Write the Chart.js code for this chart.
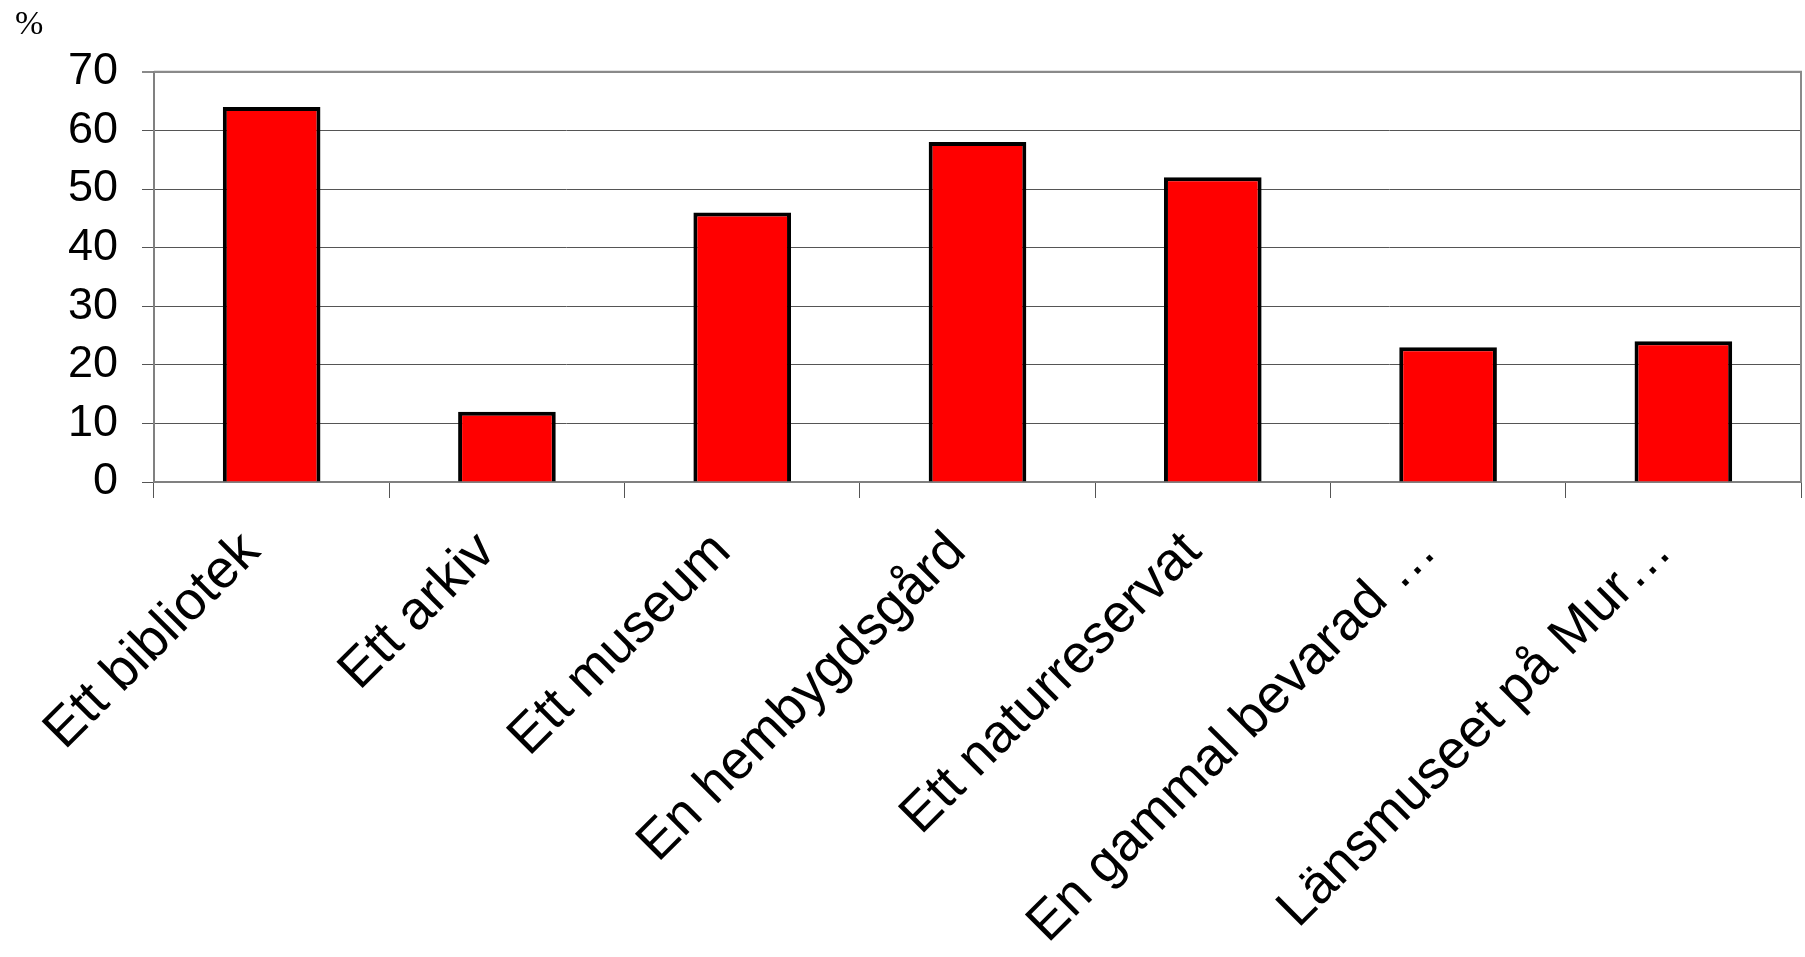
<!DOCTYPE html>
<html>
<head>
<meta charset="utf-8">
<script src="https://cdn.jsdelivr.net/npm/chart.js@4/dist/chart.umd.min.js"></script>
<style>
  html, body { margin: 0; padding: 0; background: #fff; }
  #wrap { width: 1805px; height: 957px; }
</style>
</head>
<body>
<div id="wrap"><canvas id="chart" width="1805" height="957"></canvas></div>
<script>
const categories = [
  'Ett bibliotek',
  'Ett arkiv',
  'Ett museum',
  'En hembygdsgård',
  'Ett naturreservat',
  'En gammal bevarad …',
  'Länsmuseet på Mur…'
];
const values = [64, 12, 46, 58, 52, 23, 24];
const yTicks = [0, 10, 20, 30, 40, 50, 60, 70];
const unitLabel = '%';

// ram runt plottytan (topp + höger)
const frame = {
  id: 'frame',
  afterDatasetsDraw(chart) {
    const { ctx, chartArea: a } = chart;
    ctx.save();
    ctx.strokeStyle = '#8a8a8a';
    ctx.lineWidth = 2;
    ctx.beginPath();
    ctx.moveTo(a.left, a.top);
    ctx.lineTo(a.right, a.top);
    ctx.lineTo(a.right, a.bottom);
    ctx.stroke();
    ctx.restore();
  }
};

new Chart(document.getElementById('chart'), {
  type: 'bar',
  data: {
    labels: categories,
    datasets: [{
      data: values,
      backgroundColor: '#ff0000',
      borderColor: '#000',
      borderWidth: 4,
      categoryPercentage: 1,
      barPercentage: 0.415
    }]
  },
  options: {
    responsive: false,
    animation: false,
    layout: { padding: { left: 15, right: 4, top: 0, bottom: 0 } },
    plugins: {
      legend: { display: false },
      tooltip: { enabled: false },
      title: {
        display: true,
        text: unitLabel,
        align: 'start',
        color: '#000',
        font: { family: '"Liberation Serif", "Times New Roman", serif', size: 34, weight: 'normal' },
        padding: { top: 5, bottom: 26 }
      }
    },
    scales: {
      x: {
        afterFit: s => { s.height = 957 - 482; },
        grid: { drawOnChartArea: false, drawTicks: true, tickLength: 16, color: '#555', lineWidth: 1 },
        border: { color: '#808080', width: 2 },
        ticks: {
          autoSkip: false,
          maxRotation: 45,
          minRotation: 45,
          padding: 22,
          labelOffset: -20,
          color: '#000',
          font: { family: '"Liberation Sans", Arial, sans-serif', size: 54 }
        }
      },
      y: {
        min: 0,
        max: 70,
        afterFit: s => { s.width = 154 - 15; },
        afterBuildTicks: s => { s.ticks = yTicks.map(v => ({ value: v })); },
        grid: {
          tickLength: 12,
          color: c => c.tick && c.tick.value === 70 ? '#8a8a8a' : '#555',
          lineWidth: c => c.tick && c.tick.value === 70 ? 2 : 1
        },
        border: { color: '#808080', width: 2 },
        ticks: {
          padding: 24,
          color: '#000',
          font: { family: '"Liberation Sans", Arial, sans-serif', size: 45 }
        }
      }
    }
  },
  plugins: [frame]
});
</script>
</body>
</html>
